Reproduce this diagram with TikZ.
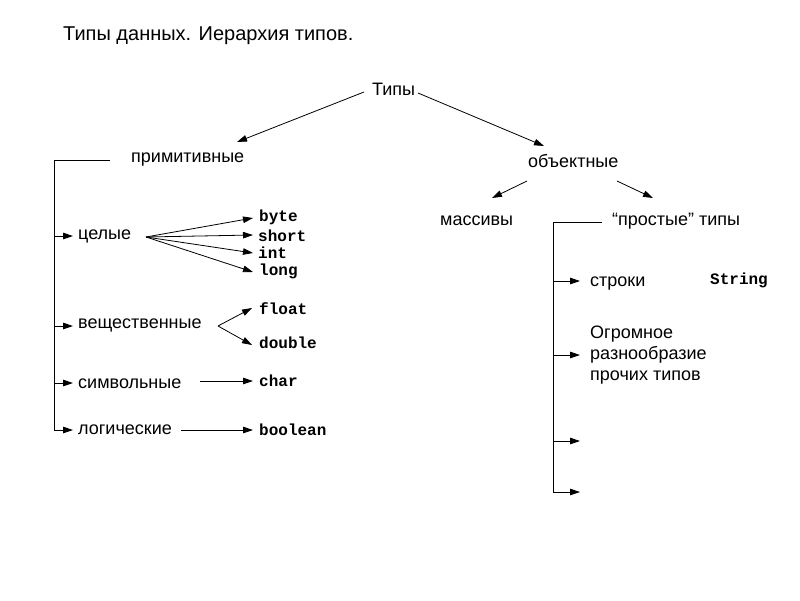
\documentclass[tikz,border=0pt]{standalone}
\usepackage{fontspec}
\setmainfont{Liberation Sans}
\setmonofont{Liberation Mono}
\usetikzlibrary{arrows.meta}
\begin{document}
\begin{tikzpicture}[x=1pt,y=-1pt,
  txt/.style={anchor=west,inner sep=0pt,font=\fontsize{18}{21}\selectfont},
  mono/.style={anchor=west,inner sep=0pt,font=\fontsize{16}{20}\selectfont\ttfamily\bfseries},
  arr/.style={-{Triangle[length=10pt,width=6.5pt]},line width=0.8pt},
  ln/.style={line width=0.8pt}]
\useasboundingbox[fill=white] (0,0) rectangle (800,600);
\node[txt,font=\fontsize{20}{24}\selectfont] (title) at (63,36) {Типы данных. Иерархия типов.};
\node[txt] (tipy) at (372,89) {Типы};
\node[txt] (prim) at (131,160) {примитивные};
\node[txt] (obj) at (528,161) {объектные};
\node[txt] (mass) at (440,221) {массивы};
\node[txt] (prost) at (612,221) {“простые” типы};
\node[txt] (cel) at (78,236) {целые};
\node[txt] (vesh) at (78,325) {вещественные};
\node[txt] (simv) at (78,384) {символьные};
\node[txt] (log) at (78,430) {логические};
\node[mono] (byte) at (259,217) {byte};
\node[mono] (short) at (258,236) {short};
\node[mono] (int) at (258,253) {int};
\node[mono] (long) at (259,271) {long};
\node[mono] (float) at (259,309) {float};
\node[mono] (double) at (259,343) {double};
\node[mono] (char) at (259,381) {char};
\node[mono] (boolean) at (259,430) {boolean};
\node[txt] (str) at (590,284) {строки};
\node[mono] (String) at (710,280) {String};
\node[txt,anchor=north west,align=left,font=\fontsize{18}{21}\selectfont] (ogr) at (590,326) {Огромное\\разнообразие\\прочих типов};
% coordinates
\coordinate (t1) at (364,92);
\coordinate (p1) at (237,142);
\coordinate (t2) at (418,93);
\coordinate (o1) at (544,146);
\coordinate (o2) at (527,181);
\coordinate (m1) at (492,198);
\coordinate (o3) at (617,181);
\coordinate (s1) at (653,198);
\coordinate (cf) at (146,237);
\coordinate (vf) at (218,326);
\coordinate (sf) at (200,381);
\coordinate (lf) at (181,430);
% top arrows
\draw[arr] (t1) -- (p1);
\draw[arr] (t2) -- (o1);
\draw[arr] (o2) -- (m1);
\draw[arr] (o3) -- (s1);
% left bracket
\coordinate (lb0) at (110,160);
\coordinate (lb1) at (54,160);
\coordinate (lb2) at (54,430);
\draw[ln] (lb0) -- (lb1) -- (lb2);
\coordinate (lc) at (54,236);
\coordinate (lv) at (54,326);
\coordinate (ls) at (54,383);
\draw[arr] (lc) -- (73,236);
\draw[arr] (lv) -- (73,326);
\draw[arr] (ls) -- (73,383);
\draw[arr] (lb2) -- (73,430);
% fans
\draw[arr] (cf) -- (253,218);
\draw[arr] (cf) -- (253,235);
\draw[arr] (cf) -- (253,253);
\draw[arr] (cf) -- (253,272);
\draw[arr] (vf) -- (252,308);
\draw[arr] (vf) -- (252,345);
\draw[arr] (sf) -- (253,381);
\draw[arr] (lf) -- (253,430);
% right bracket
\coordinate (rb0) at (602,222);
\coordinate (rb1) at (553,222);
\coordinate (rb2) at (553,492);
\draw[ln] (rb0) -- (rb1) -- (rb2);
\draw[arr] (553,281) -- (580,281);
\draw[arr] (553,355) -- (580,355);
\draw[arr] (553,441) -- (580,441);
\draw[arr] (rb2) -- (580,492);
\end{tikzpicture}
\end{document}
